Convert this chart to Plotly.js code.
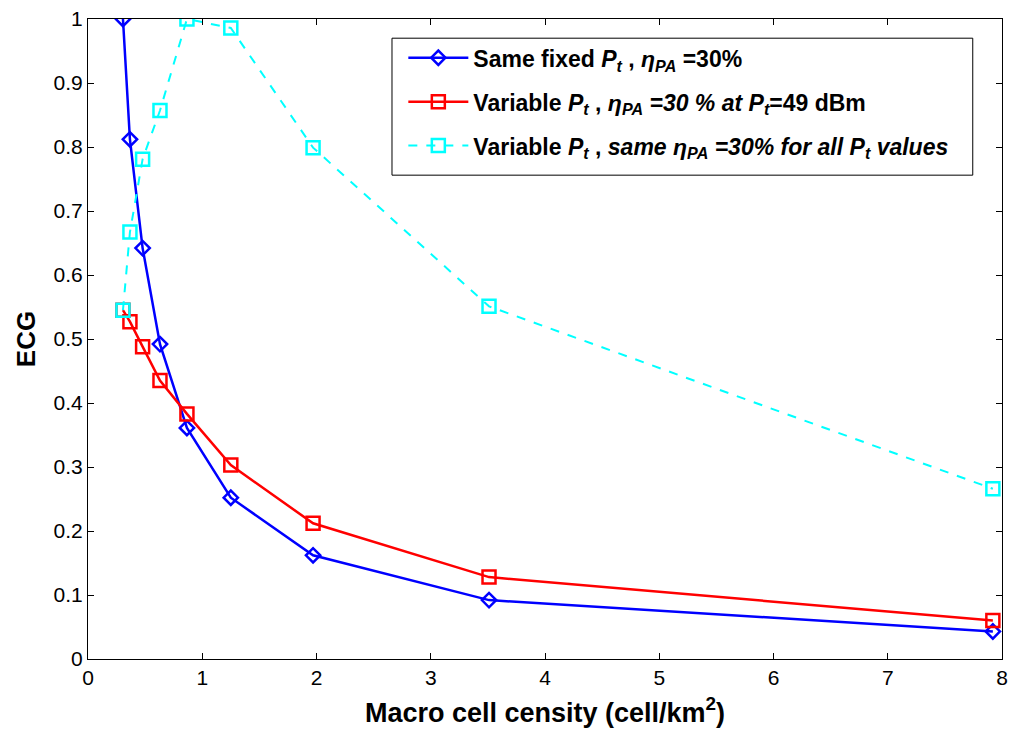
<!DOCTYPE html>
<html><head><meta charset="utf-8">
<script src="https://cdn.plot.ly/plotly-3.0.1.min.js"></script>
<style>body{margin:0;background:#fff}#chart{width:1009px;height:733px}</style>
</head><body><div id="chart"></div>
<script>
const xBlue = [0.306, 0.367, 0.478, 0.63, 0.866, 1.25, 1.97, 3.51, 7.92];
const yBlue = [1.0, 0.812, 0.642, 0.492, 0.361, 0.252, 0.162, 0.092, 0.043];
const xRed = [0.306, 0.367, 0.478, 0.63, 0.866, 1.25, 1.97, 3.51, 7.92];
const yRed = [0.545, 0.527, 0.488, 0.435, 0.383, 0.303, 0.212, 0.128, 0.06];
const xCyan = [0.306, 0.367, 0.478, 0.63, 0.866, 1.25, 1.97, 3.51, 7.92];
const yCyan = [0.545, 0.667, 0.781, 0.857, 1.0, 0.986, 0.799, 0.551, 0.266];
const names = [
  '<b>Same fixed <i>P</i><sub><i>t</i></sub> , <i>η</i><sub><i>PA</i></sub> =30%</b>',
  '<b>Variable <i>P</i><sub><i>t</i></sub> , <i>η</i><sub><i>PA</i></sub> <i>=30 % at P</i><sub><i>t</i></sub>=49 dBm</b>',
  '<b>Variable <i>P</i><sub><i>t</i></sub> , <i>same η</i><sub><i>PA</i></sub> <i>=30% for all P</i><sub><i>t</i></sub> <i>values</i></b>'
];
const yTicks = [0,0.1,0.2,0.3,0.4,0.5,0.6,0.7,0.8,0.9,1];
const yTickText = ['0','0.1','0.2','0.3','0.4','0.5','0.6','0.7','0.8','0.9','1'];
const xTicks = [0,1,2,3,4,5,6,7,8];

const traces = [
  {x:xBlue,y:yBlue,name:names[0],legendgroup:'a',mode:'lines+markers',
   line:{color:'#0000ff',width:2.5},
   marker:{symbol:'diamond-open',size:11,color:'#0000ff',line:{width:2.5,color:'#0000ff'}}},
  {x:xRed,y:yRed,name:names[1],legendgroup:'b',mode:'lines+markers',
   line:{color:'#ff0000',width:2.5},
   marker:{symbol:'square-open',size:13,color:'#ff0000',line:{width:2.5,color:'#ff0000'}}},
  {x:xCyan,y:yCyan,name:names[2],legendgroup:'c',mode:'lines+markers',
   line:{color:'#00ffff',width:2,dash:'dash'},
   marker:{symbol:'square-open',size:13,color:'#00ffff',line:{width:2.5,color:'#00ffff'}}}
];
const layout = {
  width:1009,height:733,
  margin:{l:88,r:7,t:19,b:74},
  paper_bgcolor:'#fff',plot_bgcolor:'#fff',
  font:{family:'Liberation Sans, Arial, sans-serif',size:21,color:'#000'},
  showlegend:true,
  shapes:[{type:'rect',xref:'paper',yref:'paper',x0:0.3326,x1:0.968,y0:0.756,y1:0.970,
    line:{color:'#000',width:1},fillcolor:'#fff',layer:'above'}],
  legend:{x:0.345,y:0.973,xanchor:'left',yanchor:'top',bgcolor:'rgba(0,0,0,0)',
    borderwidth:0,font:{size:23},traceorder:'grouped',tracegroupgap:11,itemwidth:60},
  xaxis:{range:[0,8],tickvals:xTicks,ticks:'inside',ticklen:6,tickcolor:'#000',
    tickfont:{size:21},
    showline:true,linecolor:'#000',linewidth:1,mirror:'ticks',showgrid:false,zeroline:false,
    title:{text:'<b>Macro cell censity (cell/km<sup>2</sup>)</b>',font:{size:27},standoff:14}},
  yaxis:{range:[0,1],tickvals:yTicks,ticktext:yTickText,ticks:'inside',ticklen:6,tickcolor:'#000',
    tickfont:{size:21},
    showline:true,linecolor:'#000',linewidth:1,mirror:'ticks',showgrid:false,zeroline:false,
    title:{text:'<b>ECG</b>',font:{size:26},standoff:10}}
};
Plotly.newPlot('chart',traces,layout,{displayModeBar:false});
</script></body></html>
